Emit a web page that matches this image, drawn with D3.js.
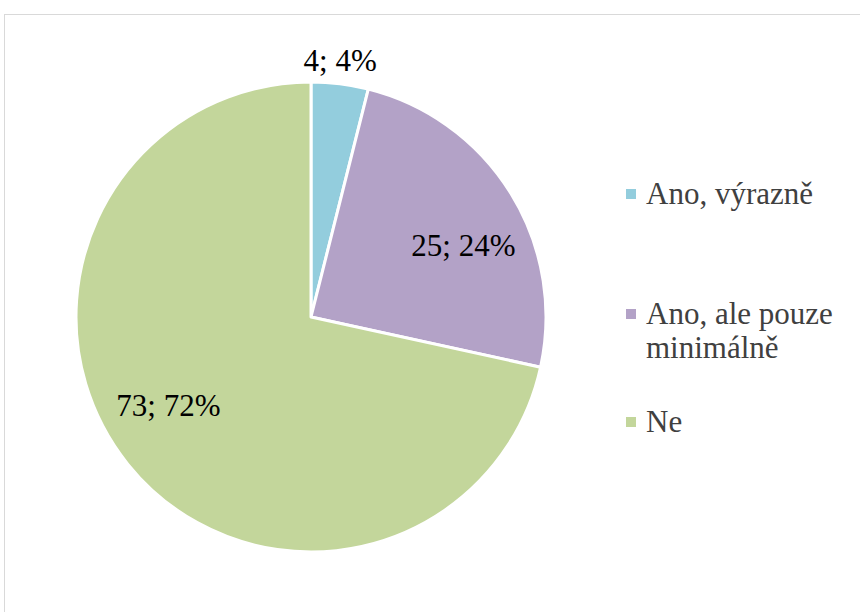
<!DOCTYPE html>
<html lang="cs">
  <head>
    <meta charset="utf-8">
    <title>Pie chart</title>
    <script src="https://cdn.jsdelivr.net/npm/d3@7"></script>
    <style>
      body { margin: 0; background: #fff; }
      svg text { font-family: "Liberation Serif", Tinos, "DejaVu Serif", "Noto Serif", serif; }
    </style>
  </head>
  <body>
    <script>
      // data
      var categories = ["Ano, výrazně", "Ano, ale pouze minimálně", "Ne"];
      var legendLines = [["Ano, výrazně"], ["Ano, ale pouze", "minimálně"], ["Ne"]];
      var counts = [4, 25, 73];
      var percents = [4, 24, 72];
      var colors = ["#93CDDD", "#B3A2C7", "#C3D69B"];

      var w = 860, h = 612;
      var cx = 311, cy = 317, r = 235;

      var svg = d3.select("body").append("svg")
                  .attr("width", w)
                  .attr("height", h);

      // chart frame
      svg.append("rect")
         .attr("x", 4.5).attr("y", 14.5)
         .attr("width", w).attr("height", h)
         .attr("fill", "none")
         .attr("stroke", "#d9d9d9")
         .attr("stroke-width", 1);

      var pie = d3.pie().sort(null).value(function(d){ return d; });
      var arcs = pie(counts);

      var arc = d3.arc().innerRadius(0).outerRadius(r);

      var g = svg.append("g").attr("transform", "translate(" + cx + "," + cy + ")");

      g.selectAll("path")
       .data(arcs)
       .enter()
       .append("path")
       .attr("d", arc)
       .attr("fill", function(d, i){ return colors[i]; })
       .attr("stroke", "#fff")
       .attr("stroke-width", 3)
       .attr("stroke-linejoin", "round");

      // labels: small slice outside, others inside (Excel best fit)
      function labelPos(d) {
        var mid = (d.startAngle + d.endAngle) / 2;
        var small = (d.endAngle - d.startAngle) < 0.5;
        var rr = small ? 258 : 168;
        var a = small ? mid - 0.01 : mid + 0.12;
        return [rr * Math.sin(a), -rr * Math.cos(a)];
      }

      g.selectAll("text.lbl")
       .data(arcs)
       .enter()
       .append("text")
       .attr("class", "lbl")
       .text(function(d, i){ return counts[i] + "; " + percents[i] + "%"; })
       .attr("x", function(d){ return labelPos(d)[0]; })
       .attr("y", function(d){ return labelPos(d)[1] + 10; })
       .attr("text-anchor", "middle")
       .style("font-size", "31px")
       .attr("fill", "#000");

      // legend
      var legendY = [194, 314, 422];
      var legend = svg.selectAll("g.legend")
                      .data(categories)
                      .enter()
                      .append("g")
                      .attr("class", "legend")
                      .attr("transform", function(d, i){ return "translate(626," + legendY[i] + ")"; });

      legend.append("rect")
            .attr("x", 0).attr("y", -5)
            .attr("width", 10).attr("height", 10)
            .attr("fill", function(d, i){ return colors[i]; });

      legend.append("text")
            .attr("x", 20)
            .attr("y", 9.5)
            .style("font-size", "31px")
            .attr("fill", "#404040")
            .selectAll("tspan")
            .data(function(d, i){ return legendLines[i]; })
            .enter()
            .append("tspan")
            .attr("x", 20)
            .attr("dy", function(d, j){ return j === 0 ? 0 : 34; })
            .text(function(d){ return d; });
    </script>
  </body>
</html>
